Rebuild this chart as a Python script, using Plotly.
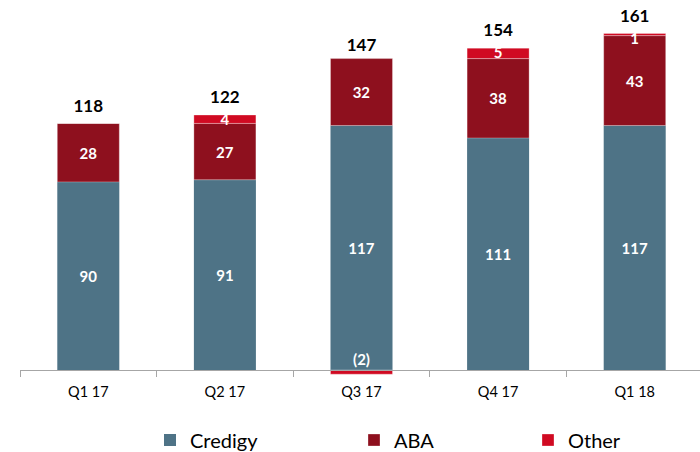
import plotly.graph_objects as go

categories = ["Q1 17", "Q2 17", "Q3 17", "Q4 17", "Q1 18"]
credigy = [90, 91, 117, 111, 117]
aba = [28, 27, 32, 38, 43]
other = [0, 4, -2, 5, 1]
other_labels = ["", "4", "(2)", "5", "1"]
totals = [118, 122, 147, 154, 161]

C_CRED = "#4E7386"
C_ABA = "#8E101E"
C_OTH = "#D00A22"
FONT = "Lato"

y0, y1 = -2.87, 172.25

fig = go.Figure()
fig.add_bar(x=categories, y=credigy, name="Credigy", marker=dict(color=C_CRED, line=dict(width=0)),
            text=[str(v) for v in credigy], textposition="inside", insidetextanchor="middle",
            textfont=dict(family=FONT, size=15, color="white", weight="bold"),
            constraintext="none", legend="legend")
fig.add_bar(x=categories, y=aba, name="ABA", marker=dict(color=C_ABA, line=dict(width=0.6, color="rgba(255,255,255,0.5)")),
            text=[str(v) for v in aba], textposition="inside", insidetextanchor="middle",
            textfont=dict(family=FONT, size=15, color="white", weight="bold"),
            constraintext="none", legend="legend2")
fig.add_bar(x=categories, y=other, name="Other", marker=dict(color=C_OTH, line=dict(width=0.6, color="rgba(255,255,255,0.5)")),
            legend="legend3", hoverinfo="skip")

# labels for the small "Other" segments
lab_y = []
for c, a, o in zip(credigy, aba, other):
    if o > 0:
        lab_y.append(c + a + o - 3)
    else:
        lab_y.append(4)
fig.add_scatter(x=categories, y=lab_y, mode="text", text=other_labels, textposition="middle center",
                textfont=dict(family=FONT, size=15, color="white", weight="bold"),
                showlegend=False, cliponaxis=False)
# totals
fig.add_scatter(x=categories, y=[t + 7.7 for t in totals], mode="text", text=[str(t) for t in totals],
                textposition="middle center",
                textfont=dict(family=FONT, size=17, color="black", weight="bold"),
                showlegend=False, cliponaxis=False)

legend_common = dict(orientation="h", xref="container", yref="container", yanchor="middle",
                     font=dict(family=FONT, size=20, color="black"), bgcolor="rgba(0,0,0,0)")
fig.update_layout(
    width=700, height=452,
    margin=dict(l=20, r=0, t=10, b=76),
    paper_bgcolor="white", plot_bgcolor="white",
    barmode="relative", bargap=0.546,
    font=dict(family=FONT),
    xaxis=dict(range=[-0.5, 4.478], showline=True, linecolor="#A6A6A6", linewidth=1,
               ticks="outside", tickson="boundaries", ticklen=6, tickcolor="#A6A6A6",
               tickfont=dict(family=FONT, size=14.5, color="black"), ticklabelstandoff=9,
               anchor="free", position=(0 - y0) / (y1 - y0), showgrid=False, zeroline=False),
    yaxis=dict(range=[y0, y1], visible=False, showgrid=False, zeroline=False),
    legend=dict(x=150 / 700, y=1 - 440 / 452, **legend_common),
    legend2=dict(x=354 / 700, y=1 - 440 / 452, **legend_common),
    legend3=dict(x=528 / 700, y=1 - 440 / 452, **legend_common),
    showlegend=True,
)

fig.write_html("out.html", config={"displayModeBar": False},
               post_script="document.body.style.margin='0';document.body.style.overflow='hidden';")
